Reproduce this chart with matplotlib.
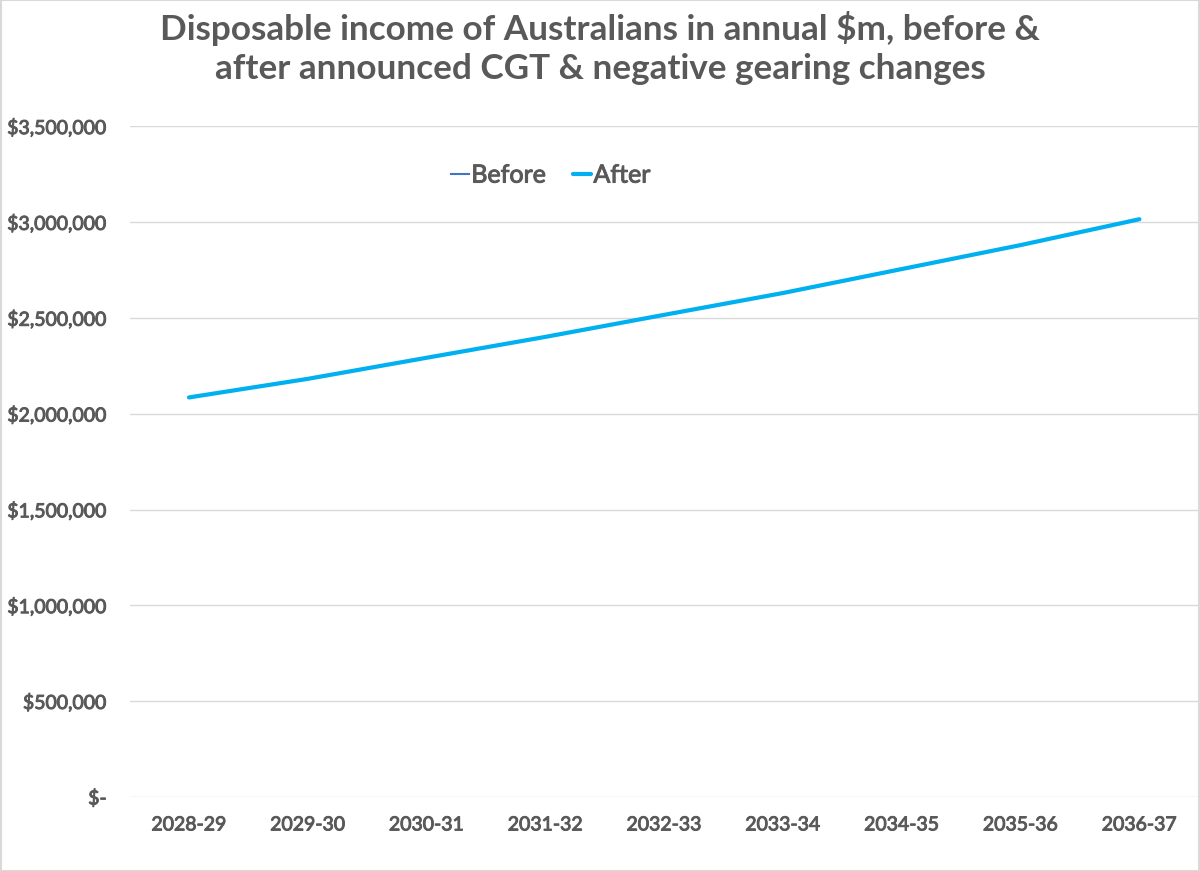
import matplotlib
matplotlib.use("Agg")
import matplotlib.pyplot as plt
import matplotlib.patheffects as pe
from matplotlib.ticker import FuncFormatter
from matplotlib.patches import Rectangle

plt.rcParams['font.family'] = ['Lato', 'DejaVu Sans']

# 年度ラベルと系列データ（$m）
years = ["2028-29", "2029-30", "2030-31", "2031-32", "2032-33",
         "2033-34", "2034-35", "2035-36", "2036-37"]
before = [2085000, 2182000, 2292000, 2401000, 2516000,
          2630000, 2755000, 2880000, 3015000]
after = [2085000, 2182000, 2292000, 2401000, 2516000,
         2630000, 2755000, 2880000, 3015000]

text_col = '#595959'
grid_col = '#D9D9D9'
# 少し太めに見せるための縁取り
thick = [pe.withStroke(linewidth=0.7, foreground=text_col)]

fig = plt.figure(figsize=(12, 8.71), dpi=100)
ax = fig.add_axes([0.108, 0.085, 0.891, 0.770])

x = list(range(len(years)))
ax.plot(x, before, color='#4472C4', linewidth=1.5, label='Before', zorder=2)
ax.plot(x, after, color='#00B0F0', linewidth=3, label='After',
        solid_capstyle='round', zorder=3)

ax.set_xlim(-0.5, len(years) - 0.5)
ax.set_ylim(0, 3500000)
ax.set_yticks(range(0, 3500001, 500000))

def money(v, pos):
    if v == 0:
        return '$-'
    return f'${v:,.0f}'

ax.yaxis.set_major_formatter(FuncFormatter(money))
ax.set_xticks(x)
ax.set_xticklabels(years)

ax.tick_params(axis='both', length=0, labelsize=14, colors=text_col)
ax.tick_params(axis='y', pad=16.5)
ax.tick_params(axis='x', pad=14)
for lab in ax.get_xticklabels() + ax.get_yticklabels():
    lab.set_path_effects(thick)
ax.grid(axis='y', color=grid_col, linewidth=1)
ax.set_axisbelow(True)
for s in ax.spines.values():
    s.set_visible(False)

fig.text(0.5, 0.945, "Disposable income of Australians in annual $m, before &\n"
         "after announced CGT & negative gearing changes",
         ha='center', va='center', fontsize=25.3, fontweight='bold',
         color=text_col, linespacing=1.3)

leg = ax.legend(loc='center', bbox_to_anchor=(0.459, 0.799),
                bbox_transform=fig.transFigure, ncol=2, frameon=False,
                prop={'size': 18}, handlelength=0.7, handletextpad=0.1,
                columnspacing=1.1)
for t in leg.get_texts():
    t.set_color(text_col)
    t.set_path_effects(thick)

# 外枠
fig.patches.append(Rectangle((0.0005, 0.0005), 0.999, 0.999,
                             transform=fig.transFigure, fill=False,
                             edgecolor=grid_col, linewidth=1.5))

fig.savefig('out.png', dpi=100)
